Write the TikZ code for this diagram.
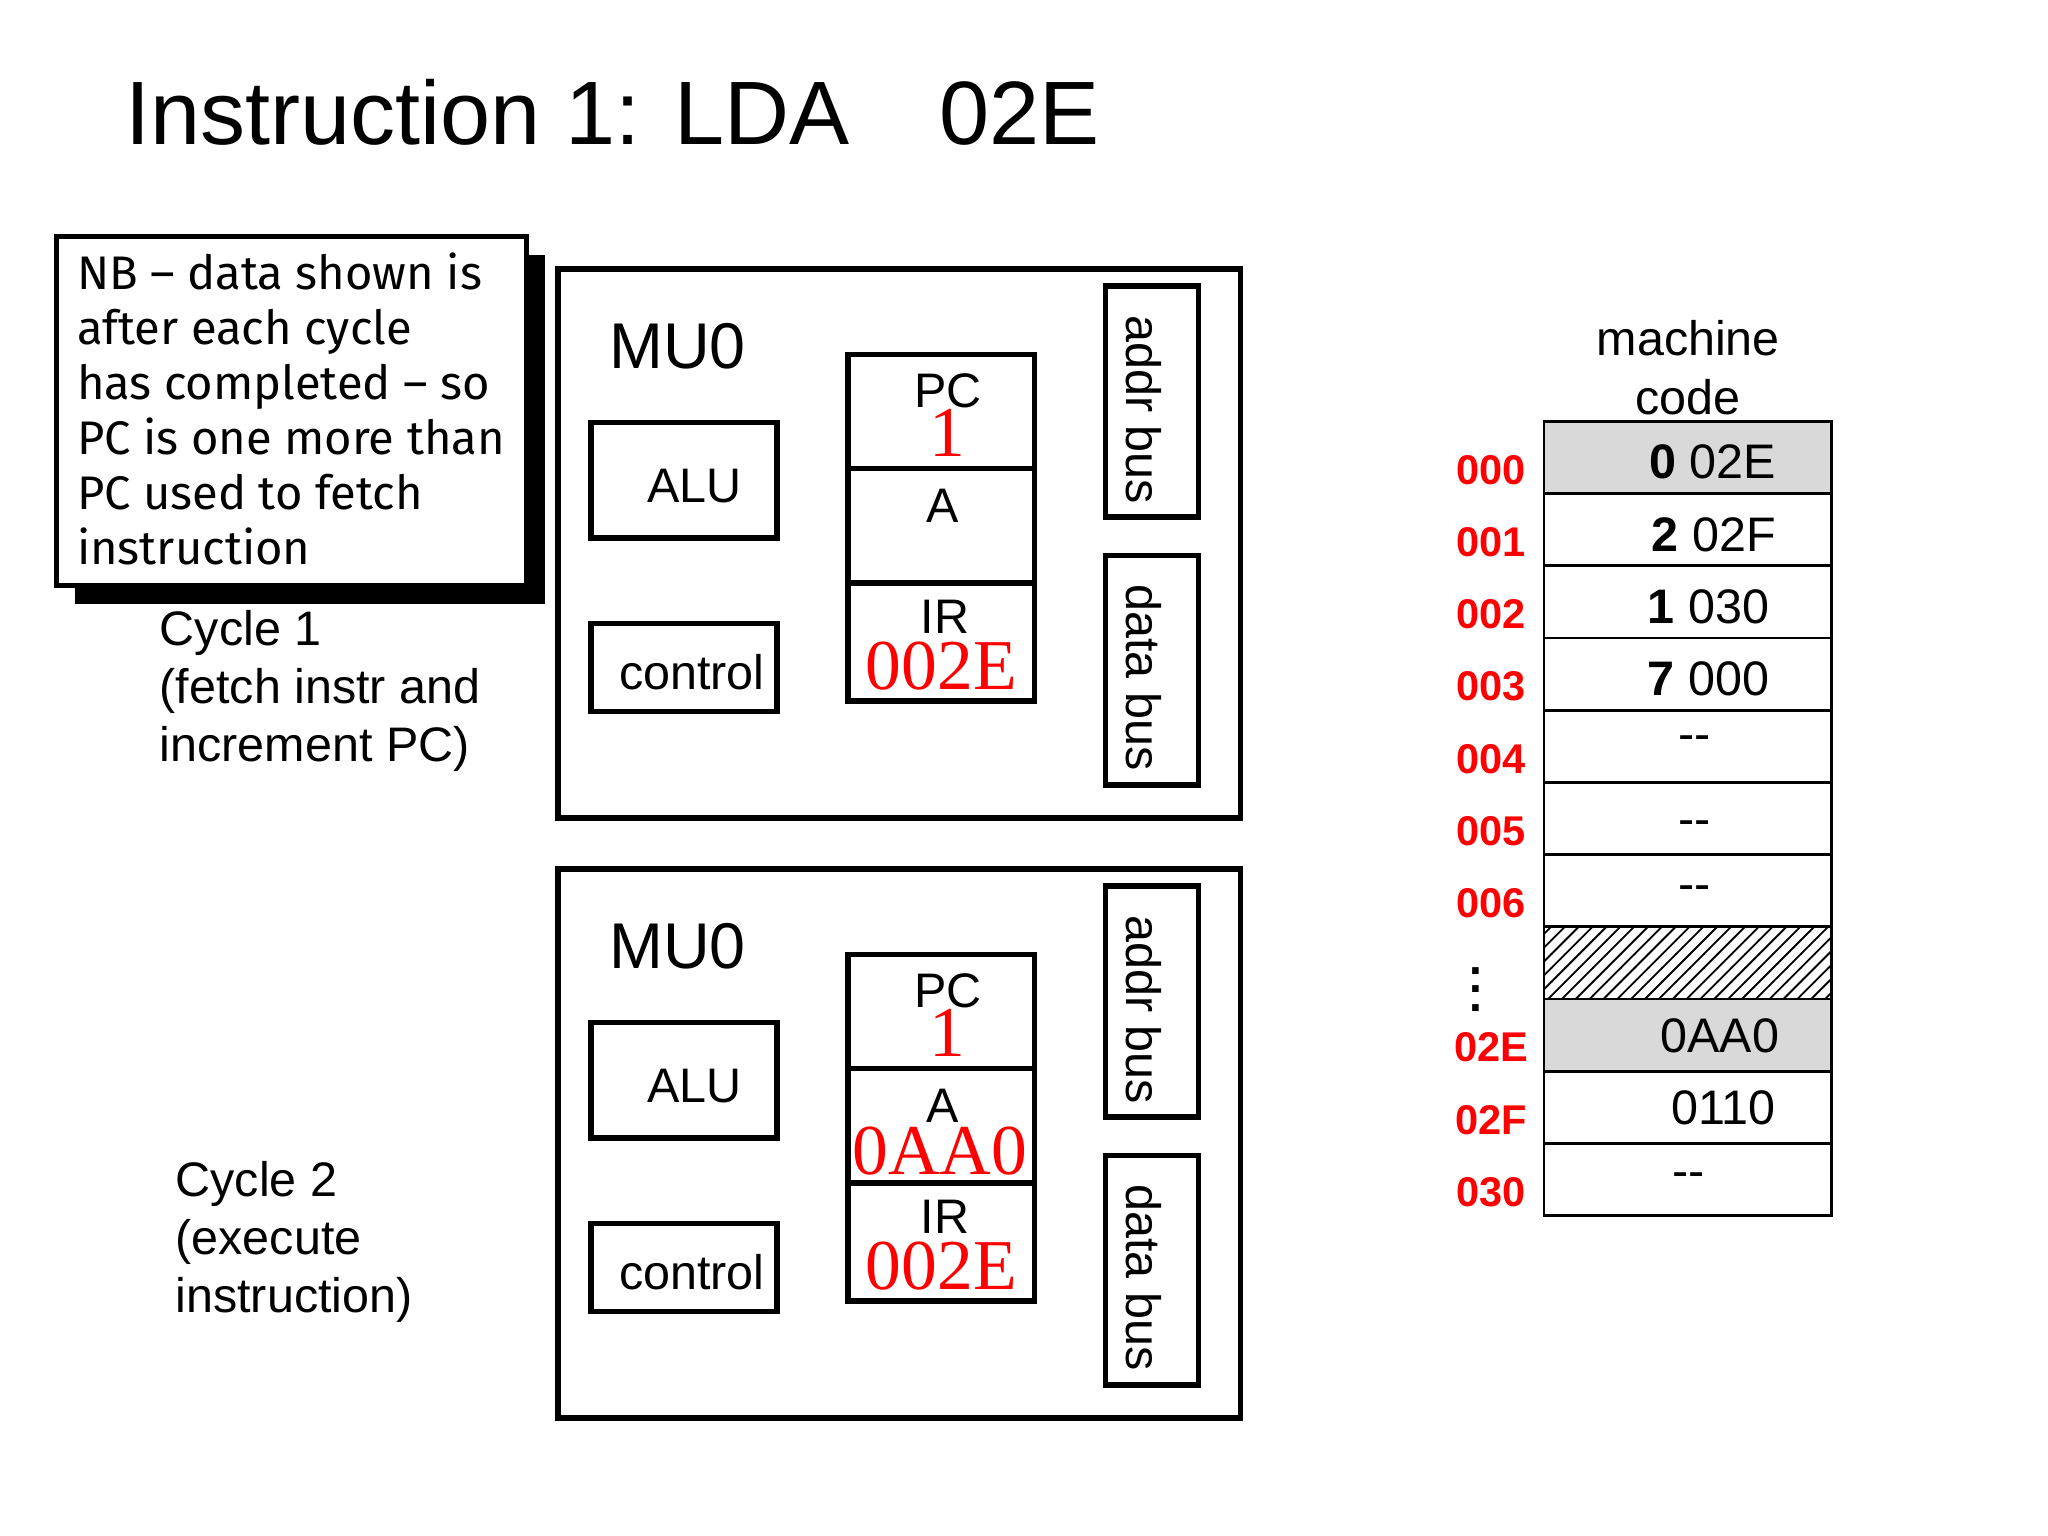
\documentclass[tikz,border=0pt]{standalone}
\usepackage{fontspec}
\setmainfont{Liberation Sans}
\newfontfamily\serifr{Liberation Serif}
\newfontfamily\nbfont{Fira Sans}
\usetikzlibrary{patterns}
\begin{document}
\begin{tikzpicture}[x=0.01cm,y=-0.01cm,
  box/.style={draw,line width=1.2pt},
  lab/.style={font=\fontsize{10.5}{12}\selectfont},
  red/.style={text=red,font=\serifr\fontsize{15.5}{15.5}\selectfont,inner sep=0pt},
  addr/.style={text=red,font=\bfseries\fontsize{9}{10}\selectfont},
  val/.style={font=\fontsize{10.5}{12}\selectfont},
  cell/.style={draw,line width=0.6pt}]
\useasboundingbox (0,0) rectangle (1560,1170);
\node[anchor=base west,font=\fontsize{19.5}{24}\selectfont,inner sep=0pt] (title) at (95,110) {Instruction 1: LDA\hspace{1em}02E};
% NB box
\fill (57,194) rectangle (415,460);
\draw[box,fill=white] (43,180) rectangle (401,446);
\node[anchor=north west,align=left,inner sep=0pt,font=\nbfont\fontsize{10.2}{11.9}\selectfont] (nb) at (58,192) {NB – data shown is\\after each cycle\\has completed – so\\PC is one more than\\PC used to fetch\\instruction};
\node[anchor=north west,align=left,inner sep=0pt,font=\fontsize{10.5}{12.6}\selectfont] (c1) at (121,464) {Cycle 1\\(fetch instr and\\increment PC)};
\node[anchor=north west,align=left,inner sep=0pt,font=\fontsize{10.5}{12.6}\selectfont] (c2) at (133,884) {Cycle 2\\(execute\\instruction)};
\foreach \o/\n in {0/a,457/b}{
  \begin{scope}[yshift={-\o*0.01cm}]
  \draw[box] (425,205) rectangle (945,623);
  \node[font=\fontsize{14}{14}\selectfont] (mu\n) at (516,264) {MU0};
  \draw[box] (450,322) rectangle (592,410);
  \node[lab] (alu\n) at (529,370) {ALU};
  \draw[box] (450,475) rectangle (592,542);
  \node[lab] (ctl\n) at (527,512) {control};
  \draw[box] (646,270) rectangle (788,534);
  \draw[box] (646,357) -- (788,357);
  \draw[box] (646,444) -- (788,444);
  \node[lab] (pc\n) at (722,298) {PC};
  \node[red] (pcv\n) at (722,330) {1};
  \node[lab] (a\n) at (718,385) {A};
  \node[lab] (ir\n) at (720,470) {IR};
  \node[red] (irv\n) at (717,507) {002E};
  \draw[box] (842,218) rectangle (913,394);
  \node[lab,rotate=-90] (ab\n) at (871,312) {addr bus};
  \draw[box] (842,423) rectangle (913,598);
  \node[lab,rotate=-90] (db\n) at (871,516) {data bus};
  \end{scope}}
\node[red] (av) at (716,877) {0AA0};
% memory
\node[align=center,font=\fontsize{10.5}{12.6}\selectfont] (mc) at (1286,280) {machine\\code};
\fill[gray!30] (1176,321) rectangle (1395,376);
\fill[gray!30] (1176,761) rectangle (1395,816);
\fill[pattern=north east lines] (1176,706) rectangle (1395,761);
\foreach \i in {0,...,10}{\draw[cell] (1176,321+\i*55) rectangle (1395,376+\i*55);}
\foreach \a/\i in {000/0,001/1,002/2,003/3,004/4,005/5,006/6,02E/8,02F/9,030/10}{
  \node[addr] (ad\i) at (1136,{358+\i*55}) {\a};}
\node[font=\bfseries\fontsize{10}{10}\selectfont] (dots) at (1124,743) {$\vdots$};
\node[val,anchor=east] (m0) at (1365,352) {\textbf{0} 02E};
\node[val,anchor=east] (m1) at (1365,407) {\textbf{2} 02F};
\node[val,anchor=east] (m2) at (1360,462) {\textbf{1} 030};
\node[val,anchor=east] (m3) at (1360,517) {\textbf{7} 000};
\node[val] (m4) at (1291,566) {{-}{-}};
\node[val] (m5) at (1291,631) {{-}{-}};
\node[val] (m6) at (1291,680) {{-}{-}};
\node[val] (m8) at (1310,789) {0AA0};
\node[val] (m9) at (1313,844) {0110};
\node[val] (m11) at (1286,899) {{-}{-}};
\end{tikzpicture}
\end{document}
